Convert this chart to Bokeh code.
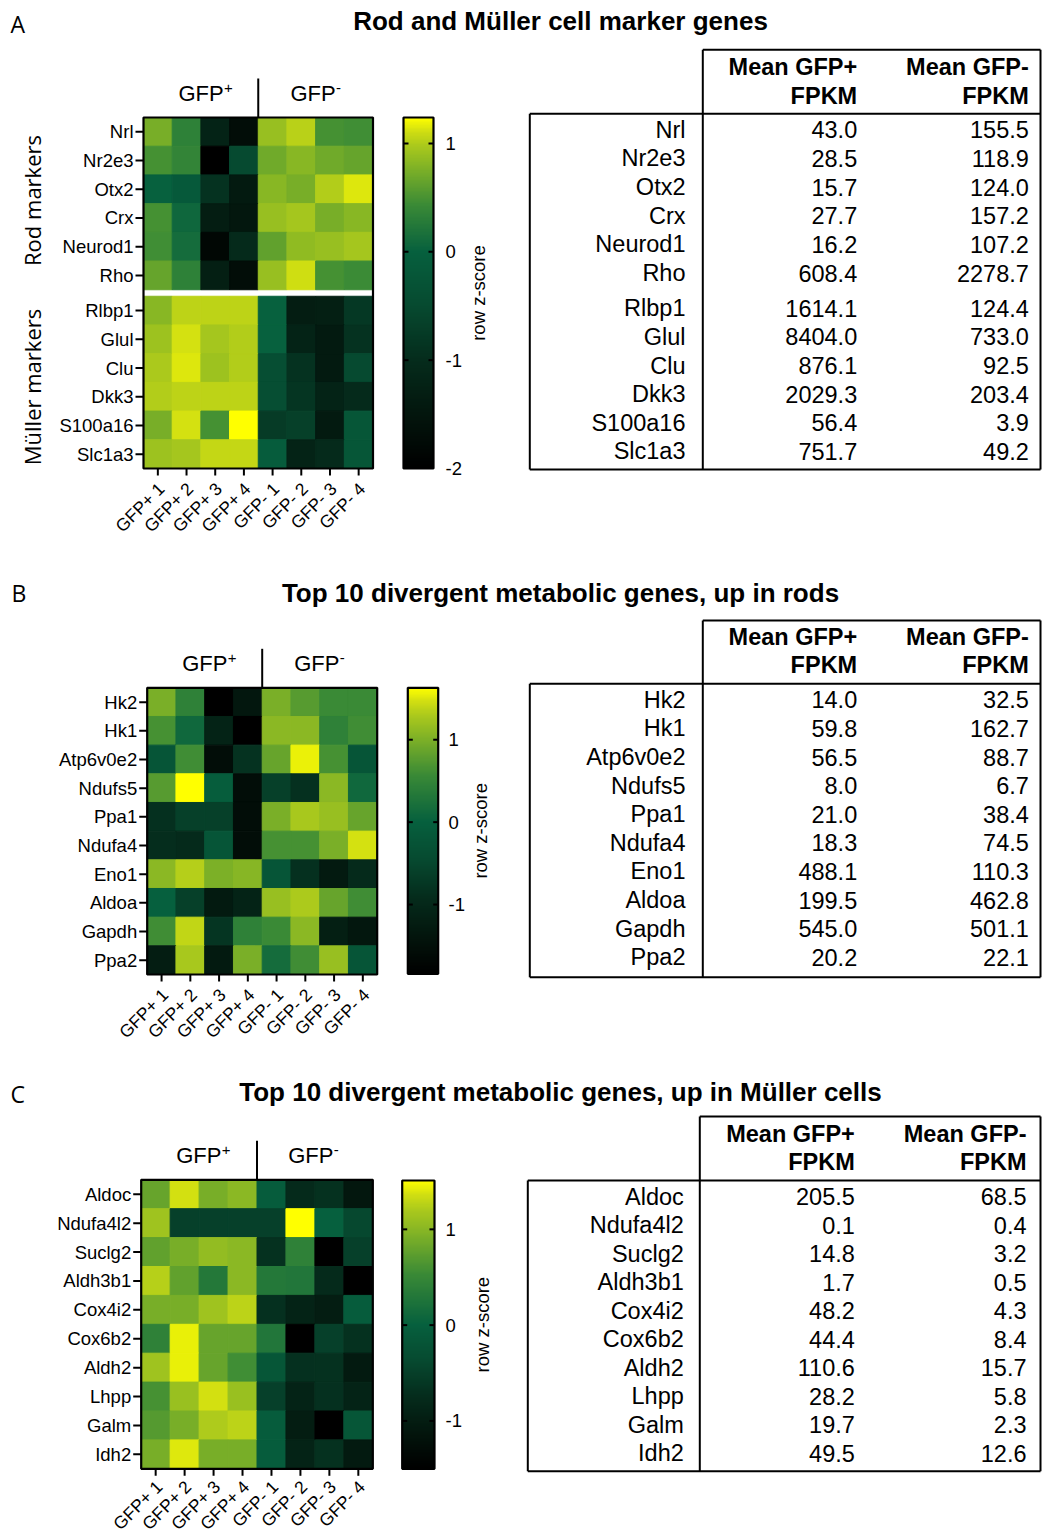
import numpy as np
from bokeh.plotting import figure
from bokeh.models import Range1d, LinearColorMapper, ColumnDataSource
from bokeh.core.properties import value
from bokeh.embed import file_html
from bokeh.resources import INLINE

# ---------------------------------------------------------------- data
samples = ["GFP+ 1", "GFP+ 2", "GFP+ 3", "GFP+ 4", "GFP- 1", "GFP- 2", "GFP- 3", "GFP- 4"]
header_pos = ["Mean GFP+", "FPKM"]
header_neg = ["Mean GFP-", "FPKM"]

# Panel A
title_a = "Rod and Müller cell marker genes"
genes_a = ["Nrl", "Nr2e3", "Otx2", "Crx", "Neurod1", "Rho",
           "Rlbp1", "Glul", "Clu", "Dkk3", "S100a16", "Slc1a3"]
z_a = [
    [0.74, 0.33, -1.20, -1.70, 0.89, 1.03, 0.49, 0.46],
    [0.49, 0.37, -2.00, -0.50, 0.70, 0.82, 0.70, 0.65],
    [0.00, -0.16, -0.90, -1.40, 0.82, 0.74, 1.01, 1.14],
    [0.49, 0.07, -1.34, -1.48, 0.89, 0.96, 0.74, 0.82],
    [0.46, 0.12, -1.84, -1.04, 0.62, 0.86, 0.89, 0.96],
    [0.65, 0.33, -1.28, -1.70, 0.89, 1.11, 0.49, 0.43],
    [0.82, 1.05, 1.05, 1.05, 0.00, -1.34, -1.28, -0.80],
    [0.92, 1.12, 0.96, 1.01, 0.00, -1.20, -1.40, -0.90],
    [0.98, 1.14, 0.92, 1.01, -0.40, -0.90, -1.40, -0.50],
    [1.01, 1.05, 1.05, 1.05, -0.40, -0.84, -1.20, -1.04],
    [0.74, 1.12, 0.49, 1.24, -0.74, -0.66, -1.40, -0.24],
    [0.92, 0.96, 1.07, 1.07, -0.08, -1.20, -1.04, -0.24],
]
fpkm_pos_a = [43.0, 28.5, 15.7, 27.7, 16.2, 608.4, 1614.1, 8404.0, 876.1, 2029.3, 56.4, 751.7]
fpkm_neg_a = [155.5, 118.9, 124.0, 157.2, 107.2, 2278.7, 124.4, 733.0, 92.5, 203.4, 3.9, 49.2]
scale_a = (-2.0, 1.24)
ticks_a = [-2, -1, 0, 1]
groups_a = ["Rod markers", "Müller markers"]

# Panel B
title_b = "Top 10 divergent metabolic genes, up in rods"
genes_b = ["Hk2", "Hk1", "Atp6v0e2", "Ndufs5", "Ppa1", "Ndufa4", "Eno1", "Aldoa", "Gapdh", "Ppa2"]
z_b = [
    [0.98, 0.44, -1.84, -1.36, 0.98, 0.75, 0.57, 0.57],
    [0.65, 0.10, -1.10, -1.84, 1.09, 1.09, 0.44, 0.60],
    [-0.22, 0.60, -1.56, -0.83, 0.86, 1.55, 0.65, -0.22],
    [0.75, 1.63, -0.07, -1.56, -0.61, -0.86, 1.09, 0.10],
    [-0.86, -0.61, -0.61, -1.56, 0.98, 1.27, 1.17, 0.86],
    [-0.90, -0.95, -0.22, -1.56, 0.65, 0.65, 0.98, 1.48],
    [1.09, 1.34, 1.00, 1.07, -0.22, -0.86, -1.29, -0.95],
    [0.00, -0.61, -1.29, -1.10, 1.17, 1.30, 0.86, 0.60],
    [0.60, 1.39, -0.77, 0.44, 0.57, 1.09, -1.18, -1.36],
    [-1.23, 1.27, -1.29, 0.98, 0.16, 0.60, 1.17, -0.22],
]
fpkm_pos_b = [14.0, 59.8, 56.5, 8.0, 21.0, 18.3, 488.1, 199.5, 545.0, 20.2]
fpkm_neg_b = [32.5, 162.7, 88.7, 6.7, 38.4, 74.5, 110.3, 462.8, 501.1, 22.1]
scale_b = (-1.84, 1.63)
ticks_b = [-1, 0, 1]

# Panel C
title_c = "Top 10 divergent metabolic genes, up in Müller cells"
genes_c = ["Aldoc", "Ndufa4l2", "Suclg2", "Aldh3b1", "Cox4i2", "Cox6b2", "Aldh2", "Lhpp", "Galm", "Idh2"]
z_c = [
    [0.80, 1.36, 0.91, 1.01, -0.06, -0.78, -0.68, -1.11],
    [1.13, -0.50, -0.50, -0.50, -0.50, 1.51, 0.00, -0.40],
    [0.76, 0.91, 1.06, 1.01, -0.68, 0.41, -1.50, -0.50],
    [1.24, 0.76, 0.30, 1.01, 0.30, 0.28, -0.78, -1.50],
    [0.91, 0.91, 1.13, 1.27, -0.70, -0.90, -1.00, -0.06],
    [0.41, 1.43, 0.80, 0.80, 0.28, -1.50, -0.50, -0.68],
    [1.13, 1.43, 0.80, 0.56, -0.18, -0.70, -0.68, -1.05],
    [0.60, 1.09, 1.36, 1.09, -0.50, -0.90, -0.70, -0.90],
    [0.69, 0.91, 1.21, 1.27, -0.06, -1.00, -1.50, -0.18],
    [0.91, 1.40, 0.91, 0.91, -0.06, -0.90, -0.68, -1.05],
]
fpkm_pos_c = [205.5, 0.1, 14.8, 1.7, 48.2, 44.4, 110.6, 28.2, 19.7, 49.5]
fpkm_neg_c = [68.5, 0.4, 3.2, 0.5, 4.3, 8.4, 15.7, 5.8, 2.3, 12.6]
scale_c = (-1.50, 1.51)
ticks_c = [-1, 0, 1]

# ---------------------------------------------------------------- styles / layout
POS_STOPS = [(0.0, "#06603e"), (0.35, "#3a8a36"), (0.6, "#78ae28"),
             (0.8, "#acca1c"), (0.9, "#d0de12"), (1.0, "#ffff00")]
NEG_STOPS = [(0.0, "#06603e"), (0.25, "#064a30"), (0.5, "#052c1c"),
             (0.75, "#03160d"), (1.0, "#000000")]

SANS = "Liberation Sans"
OPEN = "Open Sans"
W, H = 1045, 1535

layout_a = dict(letter=("A", 10, 23), title_xy=(560, 20.5),
                hm=(143, 372.5, 117, 468), gap_after=6, gap=6.5, xlab_dy=17.5,
                cb=(403, 433, 117, 468), cb_lab_x=445, cb_title_x=477.5,
                groups=[(31, 200), (31, 386.5)],
                tb=dict(L=529.3, V=702.3, R=1040, top=49.3, hline=113.3, bottom=469,
                        row0=129.3, pitch=28.65, extra_after=6, extra=6.5,
                        hy=(66.7, 95), name_r=685, c1_r=856.7, c2_r=1028.3))
layout_b = dict(letter=("B", 11, 592.5), title_xy=(560, 592.2),
                hm=(146.7, 376.7, 687.3, 974), gap_after=None, gap=0, xlab_dy=17.5,
                cb=(407.3, 437.7, 687.3, 973.3), cb_lab_x=448, cb_title_x=480,
                groups=[],
                tb=dict(L=529.3, V=702.3, R=1040, top=620, hline=683.3, bottom=976.7,
                        row0=699.3, pitch=28.6, extra_after=None, extra=0,
                        hy=(636.7, 664), name_r=685, c1_r=856.7, c2_r=1028.3))
layout_c = dict(letter=("C", 10, 1093), title_xy=(560, 1091.7),
                hm=(140.7, 372.3, 1179.3, 1468.3), gap_after=None, gap=0, xlab_dy=15,
                cb=(401.7, 434, 1180, 1468.3), cb_lab_x=445, cb_title_x=481.7,
                groups=[],
                tb=dict(L=527.3, V=699.3, R=1040, top=1116, hline=1180, bottom=1470.7,
                        row0=1196, pitch=28.5, extra_after=None, extra=0,
                        hy=(1133.3, 1161.7), name_r=683.3, c1_r=854.3, c2_r=1026))


def _rgb(h):
    return tuple(int(h[i:i + 2], 16) for i in (1, 3, 5))


def _interp(stops, t):
    t = max(0.0, min(1.0, t))
    for (t0, c0), (t1, c1) in zip(stops[:-1], stops[1:]):
        if t <= t1:
            f = 0.0 if t1 == t0 else (t - t0) / (t1 - t0)
            a, b = _rgb(c0), _rgb(c1)
            return "#%02x%02x%02x" % tuple(int(round(a[k] + (b[k] - a[k]) * f)) for k in range(3))
    return stops[-1][1]


def make_palette(vmin, vmax, n=256):
    pal = []
    for v in np.linspace(vmin, vmax, n):
        if v <= 0:
            pal.append(_interp(NEG_STOPS, v / vmin))
        else:
            pal.append(_interp(POS_STOPS, v / vmax))
    return pal


# ---------------------------------------------------------------- figure
p = figure(width=W, height=H, x_range=Range1d(0, W), y_range=Range1d(-H, 0),
           output_backend="svg", toolbar_location=None,
           x_axis_location=None, y_axis_location=None, min_border=0)
p.grid.visible = False
p.outline_line_color = None
p.background_fill_color = "white"
p.border_fill_color = "white"


def txt(xs, ys, texts, size, font=SANS, style="normal", align="left",
        baseline="middle", angle=0.0):
    p.text(x=list(xs), y=[-v for v in ys], text=list(texts),
           text_font=value(font), text_font_size=size, text_font_style=style,
           text_align=align, text_baseline=baseline, angle=angle, text_color="black")


def seg(x0s, y0s, x1s, y1s, w=2):
    p.segment(x0=list(x0s), y0=[-v for v in y0s], x1=list(x1s), y1=[-v for v in y1s],
              line_color="black", line_width=w)


def panel(title, genes, z, fpkm_pos, fpkm_neg, scale, ticks, lay, groups=None):
    # letter and title
    letter, lx, ly = lay["letter"]
    txt([lx], [ly], [letter], "23px", font=OPEN)
    txt([lay["title_xy"][0]], [lay["title_xy"][1]], [title], "26px", style="bold", align="center")

    vmin, vmax = scale
    mapper = LinearColorMapper(palette=make_palette(vmin, vmax), low=vmin, high=vmax)

    # heatmap
    x0, x1, y0, y1 = lay["hm"]
    n = len(genes)
    gap = lay["gap"]
    cw = (x1 - x0) / len(samples)
    ch = (y1 - y0 - gap) / n
    yc = [y0 + (i + 0.5) * ch + (gap if (lay["gap_after"] is not None and i >= lay["gap_after"]) else 0)
          for i in range(n)]
    xc = [x0 + (j + 0.5) * cw for j in range(len(samples))]
    xs, ys, zs = [], [], []
    for i in range(n):
        for j in range(len(samples)):
            xs.append(xc[j]); ys.append(-yc[i]); zs.append(z[i][j])
    src = ColumnDataSource(dict(x=xs, y=ys, z=zs))
    p.rect(x="x", y="y", width=cw, height=ch, source=src,
           fill_color={"field": "z", "transform": mapper},
           line_color={"field": "z", "transform": mapper}, line_width=1)
    p.rect(x=[(x0 + x1) / 2], y=[-(y0 + y1) / 2], width=x1 - x0, height=y1 - y0,
           fill_color=None, line_color="black", line_width=2.2)
    # y axis
    seg([x0 - 8] * n, yc, [x0] * n, yc)
    txt([x0 - 10] * n, yc, genes, "18.5px", align="right")
    # x axis
    seg(xc, [y1] * len(xc), xc, [y1 + 7] * len(xc))
    txt([x + 3.6 for x in xc], [y1 + lay["xlab_dy"]] * len(xc), samples, "17.5px",
        align="right", angle=np.pi / 4)
    # group header
    xm = x0 + 4 * cw
    seg([xm], [y0 - 39], [xm], [y0])
    gy = y0 - 24
    txt([x0 + 35, x0 + 147], [gy, gy], ["GFP", "GFP"], "22px")
    txt([x0 + 35 + 45.5, x0 + 147 + 45.5], [gy - 6, gy - 6], ["+", "-"], "15px")
    if groups:
        for (gx, gyy), g in zip(lay["groups"], groups):
            txt([gx], [gyy], [g], "22px", font=OPEN, align="center", angle=np.pi / 2)

    # colour bar
    cx0, cx1, cy0, cy1 = lay["cb"]
    arr = np.linspace(vmin, vmax, 256).reshape(256, 1)
    p.image(image=[arr], x=cx0, y=-cy1, dw=cx1 - cx0, dh=cy1 - cy0, color_mapper=mapper)
    p.rect(x=[(cx0 + cx1) / 2], y=[-(cy0 + cy1) / 2], width=cx1 - cx0, height=cy1 - cy0,
           fill_color=None, line_color="black", line_width=2.2)
    ty = [cy1 - (t - vmin) / (vmax - vmin) * (cy1 - cy0) for t in ticks]
    inner = [v for v in ty if abs(v - cy1) > 3 and abs(v - cy0) > 3]
    seg([cx0] * len(inner), inner, [cx0 + 5] * len(inner), inner)
    seg([cx1 - 5] * len(inner), inner, [cx1] * len(inner), inner)
    txt([lay["cb_lab_x"]] * len(ticks), ty, [str(t) for t in ticks], "18.5px")
    txt([lay["cb_title_x"]], [(cy0 + cy1) / 2], ["row z-score"], "18.5px",
        align="center", angle=np.pi / 2)

    # table
    tb = lay["tb"]
    L, V, R = tb["L"], tb["V"], tb["R"]
    seg([V, L, V, L, L, R], [tb["top"], tb["hline"], tb["top"], tb["hline"], tb["bottom"], tb["top"]],
        [R, R, V, L, R, R], [tb["top"], tb["hline"], tb["bottom"], tb["bottom"], tb["bottom"], tb["bottom"]])
    txt([tb["c1_r"]] * 2, list(tb["hy"]), header_pos, "23.5px", style="bold", align="right")
    txt([tb["c2_r"]] * 2, list(tb["hy"]), header_neg, "23.5px", style="bold", align="right")
    ry = [tb["row0"] + i * tb["pitch"] +
          (tb["extra"] if (tb["extra_after"] is not None and i >= tb["extra_after"]) else 0)
          for i in range(n)]
    txt([tb["name_r"]] * n, ry, genes, "23.5px", align="right")
    txt([tb["c1_r"]] * n, ry, ["%.1f" % v for v in fpkm_pos], "23.5px", align="right")
    txt([tb["c2_r"]] * n, ry, ["%.1f" % v for v in fpkm_neg], "23.5px", align="right")


panel(title_a, genes_a, z_a, fpkm_pos_a, fpkm_neg_a, scale_a, ticks_a, layout_a, groups_a)
panel(title_b, genes_b, z_b, fpkm_pos_b, fpkm_neg_b, scale_b, ticks_b, layout_b)
panel(title_c, genes_c, z_c, fpkm_pos_c, fpkm_neg_c, scale_c, ticks_c, layout_c)

open("out.html", "w").write(file_html(p, INLINE))
